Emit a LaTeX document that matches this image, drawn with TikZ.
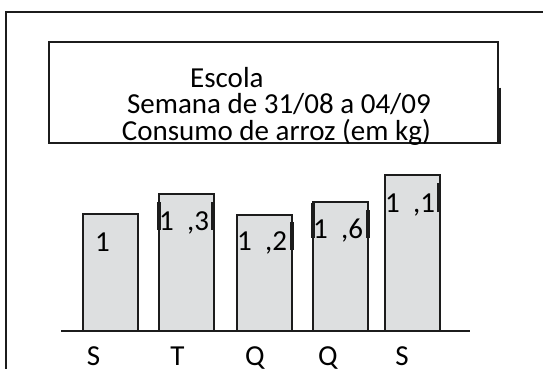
\documentclass[tikz,border=0pt]{standalone}
\usepackage{fontspec}
\setmainfont{Carlito}
\definecolor{cinza}{RGB}{221,223,224}
\definecolor{traco}{RGB}{28,28,28}

\begin{document}
\begin{tikzpicture}[x=1pt,y=-1pt,
	barra/.style={shape=rectangle,draw=traco,fill=cinza,line width=2pt,minimum width=55pt,anchor=south,inner sep=0pt,outer sep=0pt},
	texto/.style={inner sep=0pt,font=\fontsize{29}{27}\selectfont},
	marca/.style={draw=traco,line width=3.5pt}]
	\useasboundingbox (0,0) rectangle (543,368);

	% moldura e titulo
	\draw[traco,line width=2pt] (560,12) -- (6,12) -- (6,380);
	\node[shape=rectangle,draw=traco,line width=2pt,minimum width=449pt,minimum height=101pt,inner sep=0pt] (quadro) at (273.5,92.5) {};
	\node[texto,anchor=base west] (escola) at (190,87)  {Escola};
	\node[texto,anchor=base east] (semana) at (431,113) {Semana de 31/08 a 04/09};
	\node[texto,anchor=base east] (consumo) at (431,140) {Consumo de arroz (em kg)};
	\draw[marca] (quadro.east) ++(0,-5) -- (quadro.south east);

	% eixo
	\coordinate (eixoA) at (61,331);
	\coordinate (eixoB) at (470,331);
	\draw[traco,line width=2pt] (eixoA) -- (eixoB);

	% barras
	\node[barra,minimum height=117pt] (seg) at (110.5,331) {};
	\node[barra,minimum height=137pt] (ter) at (186,331)   {};
	\node[barra,minimum height=116pt] (qua) at (264.5,331) {};
	\node[barra,minimum height=129pt] (qui) at (340.5,331) {};
	\node[barra,minimum height=156pt] (sex) at (412,331)   {};

	\node[texto,anchor=base west] (vseg) at (95,251)  {1};
	\node[texto,anchor=base west] (vter) at (159,230) {1\ \ ,3};
	\node[texto,anchor=base west] (vqua) at (237,250) {1\ \ ,2};
	\node[texto,anchor=base west] (vqui) at (313,238) {1\ \ ,6};
	\node[texto,anchor=base west] (vsex) at (385,212) {1\ \ ,1};

	\draw[marca] (159,202) -- (159,230);
	\draw[marca] (213,202) -- (213,230);
	\draw[marca] (292,222) -- (292,250);
	\draw[marca] (313,203) -- (313,238);
	\draw[marca] (368,210) -- (368,238);
	\draw[marca] (439,183) -- (439,212);

	% dias
	\node[texto,anchor=base] (dseg) at (93.5,365) {S};
	\node[texto,anchor=base] (dter) at (177.5,365) {T};
	\node[texto,anchor=base] (dqua) at (255,365)  {Q};
	\node[texto,anchor=base] (dqui) at (328,365)  {Q};
	\node[texto,anchor=base] (dsex) at (402,365)  {S};
\end{tikzpicture}
\end{document}
